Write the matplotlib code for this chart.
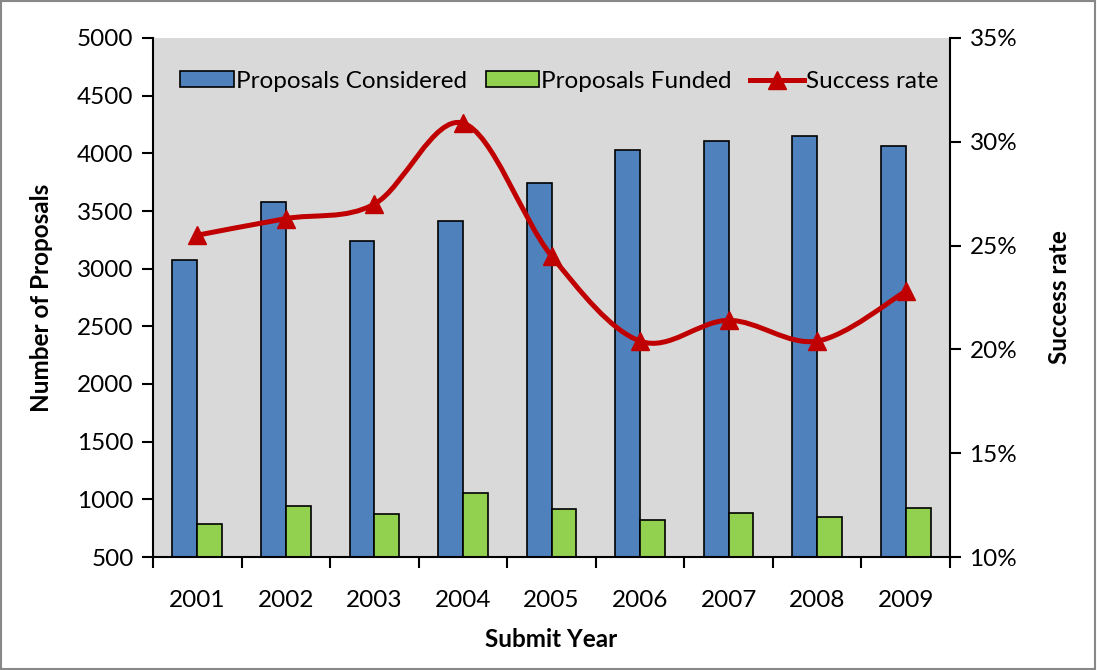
import numpy as np
import matplotlib.pyplot as plt
from matplotlib.path import Path
from matplotlib.patches import PathPatch
from matplotlib.lines import Line2D
from matplotlib.ticker import FuncFormatter

plt.rcParams['font.family'] = ['Lato', 'DejaVu Sans']

years = ['2001', '2002', '2003', '2004', '2005', '2006', '2007', '2008', '2009']
considered = [3075, 3575, 3240, 3413, 3743, 4029, 4107, 4150, 4063]
funded = [786, 942, 873, 1055, 916, 821, 881, 847, 925]
success = [25.5, 26.3, 27.0, 30.9, 24.5, 20.4, 21.4, 20.4, 22.8]

blue = '#4f81bd'
green = '#92d050'
red = '#c00000'
fs = 17.5

fig = plt.figure(figsize=(10.97, 6.70), dpi=100)
ax = fig.add_axes([153 / 1097, 1 - 557 / 670, 797 / 1097, 519 / 670])
ax.set_facecolor('#d9d9d9')

x = np.arange(len(years))
w = 0.28
ax.bar(x - w / 2, considered, w, color=blue, edgecolor='black', linewidth=1.2,
       label='Proposals Considered', zorder=2)
ax.bar(x + w / 2, funded, w, color=green, edgecolor='black', linewidth=1.2,
       label='Proposals Funded', zorder=2)

ax.set_xlim(-0.5, len(years) - 0.5)
ax.set_ylim(500, 5000)
ax.set_yticks(np.arange(500, 5001, 500))
ax.set_xticks(x)
ax.set_xticklabels(years)
ax.set_xticks(np.arange(-0.5, len(years)), minor=True)
ax.tick_params(axis='x', which='major', length=0, pad=24, labelsize=fs)
ax.tick_params(axis='x', which='minor', length=8, width=1.5, direction='out')
ax.tick_params(axis='y', length=8, width=1.5, direction='out', labelsize=fs, pad=6)
ax.spines['top'].set_visible(False)
ax.spines['right'].set_visible(False)
ax.spines['left'].set_linewidth(1.5)
ax.spines['bottom'].set_linewidth(1.5)
ax.set_ylabel('Number of Proposals', fontsize=fs, fontweight='bold', labelpad=17)
ax.set_xlabel('Submit Year', fontsize=fs, fontweight='bold', labelpad=12)

ax2 = ax.twinx()
ax2.set_ylim(10, 35)
ax2.set_yticks(np.arange(10, 36, 5))
ax2.yaxis.set_major_formatter(FuncFormatter(lambda v, p: '%d%%' % v))
ax2.tick_params(axis='y', length=8, width=1.5, direction='out', labelsize=fs, pad=6)
ax2.spines['top'].set_visible(False)
ax2.spines['left'].set_visible(False)
ax2.spines['bottom'].set_visible(False)
ax2.spines['right'].set_linewidth(1.5)
ax2.set_ylabel('Success rate', fontsize=fs, fontweight='bold', labelpad=22)

# smoothed line through the points (cubic Bezier, Catmull-Rom style)
px = x.astype(float)
py = np.array(success, dtype=float)
verts = [(px[0], py[0])]
codes = [Path.MOVETO]
t = 1 / 6
for i in range(len(px) - 1):
    p0 = (px[max(i - 1, 0)], py[max(i - 1, 0)])
    p1 = (px[i], py[i])
    p2 = (px[i + 1], py[i + 1])
    p3 = (px[min(i + 2, len(px) - 1)], py[min(i + 2, len(px) - 1)])
    c1 = (p1[0] + (p2[0] - p0[0]) * t, p1[1] + (p2[1] - p0[1]) * t)
    c2 = (p2[0] - (p3[0] - p1[0]) * t, p2[1] - (p3[1] - p1[1]) * t)
    verts += [c1, c2, p2]
    codes += [Path.CURVE4] * 3
ax2.add_patch(PathPatch(Path(verts, codes), facecolor='none', edgecolor=red,
                        linewidth=3.6, zorder=3))
ax2.plot(px, py, linestyle='none', marker='^', markersize=13, color=red, zorder=4)

handles = [
    plt.Rectangle((0, 0), 1, 1, facecolor=blue, edgecolor='black', linewidth=1.2),
    plt.Rectangle((0, 0), 1, 1, facecolor=green, edgecolor='black', linewidth=1.2),
    Line2D([], [], color=red, linewidth=3.6, marker='^', markersize=13),
]
ax2.legend(handles, ['Proposals Considered', 'Proposals Funded', 'Success rate'],
           loc='upper center', ncol=3, frameon=False, fontsize=fs,
           bbox_to_anchor=(0.51, 0.965), handlelength=2.2, handleheight=0.6,
           handletextpad=0.1, columnspacing=0.75, borderaxespad=0.2)

fig.patches.append(plt.Rectangle((0.001, 0.001), 0.997, 0.997, transform=fig.transFigure,
                                 fill=False, edgecolor='#888888', linewidth=1.5))

fig.savefig('out.png', dpi=100)
